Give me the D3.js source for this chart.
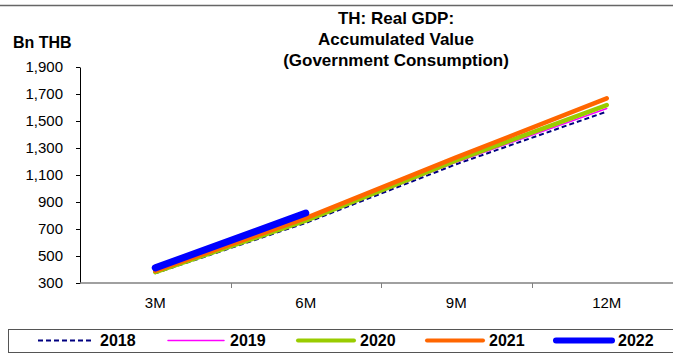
<!DOCTYPE html>
<html>
<head>
<meta charset="utf-8">
<script src="https://cdn.jsdelivr.net/npm/d3@7"></script>
<style>
  body { margin: 0; background: #fff; }
  svg { display: block; font-family: "Liberation Sans", Arial, sans-serif; }
</style>
</head>
<body>
<div id="chart"></div>
<script>
var width = 673, height = 361;

// data (Bn THB, accumulated)
var periods = ["3M", "6M", "9M", "12M"];
var years = ["2018", "2019", "2020", "2021", "2022"];
var v2018 = [372, 745, 1180, 1570];
var v2019 = [378, 755, 1195, 1593];
var v2020 = [381, 762, 1208, 1618];
var v2021 = [390, 780, 1230, 1668];
var v2022 = [412, 818];
var yTicks = [300, 500, 700, 900, 1100, 1300, 1500, 1700, 1900];
var titleLines = ["TH: Real GDP:", "Accumulated Value", "(Government Consumption)"];

var seriesValues = [v2018, v2019, v2020, v2021, v2022];
var colors = ["#000080", "#ff00ff", "#99cc00", "#ff6600", "#0000ff"];
var widths = [2, 1.5, 4.5, 4.5, 7];
var legendWidths = [2, 1.5, 4, 4, 6];
var dashes = ["5,3", null, null, null, null];

var plotLeft = 80, plotRight = 682, plotTop = 67, plotBottom = 283;

var svg = d3.select("#chart").append("svg")
  .attr("width", width)
  .attr("height", height);

var xScale = d3.scaleBand()
  .domain(periods)
  .range([plotLeft, plotRight]);

var yScale = d3.scaleLinear()
  .domain([300, 1900])
  .range([plotBottom, plotTop]);

// top border
svg.append("line")
  .attr("x1", 0).attr("x2", width)
  .attr("y1", 5.5).attr("y2", 5.5)
  .attr("stroke", "#666")
  .attr("stroke-width", 1.5);

// title
svg.append("g").selectAll("text")
  .data(titleLines)
  .join("text")
  .attr("x", 396)
  .attr("y", function(d, i) { return 24 + i * 21; })
  .attr("text-anchor", "middle")
  .style("font-size", "17px")
  .style("font-weight", "bold")
  .text(function(d) { return d; });

// unit label
svg.append("text")
  .attr("x", 13)
  .attr("y", 48)
  .style("font-size", "16px")
  .style("font-weight", "bold")
  .text("Bn THB");

// y axis
var yAxis = svg.append("g")
  .attr("transform", "translate(" + plotLeft + ",0)")
  .call(d3.axisLeft(yScale)
    .tickValues(yTicks)
    .tickFormat(d3.format(","))
    .tickSize(4)
    .tickSizeOuter(0)
    .tickPadding(13));
yAxis.select(".domain").attr("stroke", "#000");
yAxis.selectAll(".tick line").attr("stroke", "#000");
yAxis.selectAll("text")
  .style("font-size", "15px")
  .attr("fill", "#000");

// x axis - ticks sit on category boundaries
var xAxis = svg.append("g")
  .attr("transform", "translate(0," + plotBottom + ")");
xAxis.append("line")
  .attr("x1", plotLeft).attr("x2", width)
  .attr("y1", 0).attr("y2", 0)
  .attr("stroke", "#808080")
  .attr("stroke-width", 1.5);
xAxis.selectAll(".xtick")
  .data(periods.slice(1))
  .join("line")
  .attr("class", "xtick")
  .attr("x1", function(d) { return Math.round(xScale(d)) + 0.5; })
  .attr("x2", function(d) { return Math.round(xScale(d)) + 0.5; })
  .attr("y1", 0).attr("y2", 5)
  .attr("stroke", "#808080");
xAxis.selectAll(".xlabel")
  .data(periods)
  .join("text")
  .attr("class", "xlabel")
  .attr("x", function(d) { return xScale(d) + xScale.bandwidth() / 2; })
  .attr("y", 25)
  .attr("text-anchor", "middle")
  .style("font-size", "15px")
  .text(function(d) { return d; });

// lines
var line = d3.line()
  .x(function(d, i) { return xScale(periods[i]) + xScale.bandwidth() / 2; })
  .y(function(d) { return yScale(d); });

seriesValues.forEach(function(vals, i) {
  svg.append("path")
    .datum(vals)
    .attr("d", line)
    .attr("fill", "none")
    .attr("stroke", colors[i])
    .attr("stroke-width", widths[i])
    .attr("stroke-dasharray", dashes[i])
    .attr("stroke-linecap", dashes[i] ? "butt" : "round")
    .attr("stroke-linejoin", "round");
});

// legend
var legend = svg.append("g");
legend.append("rect")
  .attr("x", 8.5).attr("y", 329.5)
  .attr("width", 700).attr("height", 23)
  .attr("fill", "none")
  .attr("stroke", "#555");

var legendX = [38, 168, 298, 427, 556];
years.forEach(function(yr, i) {
  legend.append("line")
    .attr("x1", legendX[i]).attr("x2", legendX[i] + 56)
    .attr("y1", 340.5).attr("y2", 340.5)
    .attr("stroke", colors[i])
    .attr("stroke-width", legendWidths[i])
    .attr("stroke-dasharray", dashes[i])
    .attr("stroke-linecap", dashes[i] ? "butt" : "round");
  legend.append("text")
    .attr("x", legendX[i] + 62)
    .attr("y", 346)
    .style("font-size", "16px")
    .style("font-weight", "bold")
    .text(yr);
});
</script>
</body>
</html>
